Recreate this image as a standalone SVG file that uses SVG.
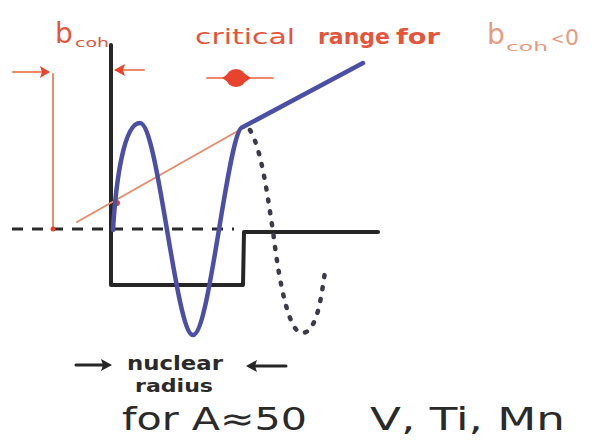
<svg xmlns="http://www.w3.org/2000/svg" width="603" height="444" viewBox="0 0 603 444">
<style>
.ink{fill:none;stroke:#262626;stroke-width:4;stroke-linecap:round;stroke-linejoin:round}
.dash{fill:none;stroke:#2a2a2a;stroke-width:3;stroke-dasharray:11 9}
.blue{fill:none;stroke:#4c4fa6;stroke-width:4.5;stroke-linecap:round;stroke-linejoin:round}
.dots{fill:none;stroke:#3a3a4a;stroke-width:4.5;stroke-linecap:round;stroke-dasharray:2 10}
.or{fill:none;stroke:#ec8a6a;stroke-width:2;stroke-linecap:round}
.red{fill:#e8432d}
.tr{font-family:"DejaVu Sans","Liberation Sans",sans-serif;fill:#e5553b}
.to{font-family:"DejaVu Sans","Liberation Sans",sans-serif;fill:#e99a80}
.tk{font-family:"DejaVu Sans","Liberation Sans",sans-serif;fill:#2a2a2a}
.bd{font-weight:bold}
</style>
<rect width="603" height="444" fill="#ffffff"/>
<g id="axis">
<line class="dash" x1="12" y1="229" x2="234" y2="229"/>
</g>
<g id="well">
<polyline class="ink" points="111,45 111,285 243,285 244,232 378,232"/>
</g>
<g id="asymptote">
<line class="or" x1="53" y1="74" x2="53" y2="229"/>
<line class="or" x1="77" y1="222" x2="243" y2="128"/>
<circle class="red" cx="53" cy="229" r="2.5"/>
<circle class="red" cx="117" cy="203" r="3"/>
</g>
<g id="wave">
<path class="blue" d="M113,230 C116,180 124,123 140,123 C158,123 176,335 193,335 C210,335 228,127 243,127 L363,63"/>
<path class="dots" d="M250,130 C262,150 268,200 273,231 C280,290 290,333 302,333 C318,333 322,290 325,272"/>
</g>
<g id="connectors">
<line class="or" x1="13" y1="72" x2="48" y2="72"/>
<path class="red" d="M50,72 L40,66 L42,72 L40,78 Z"/>
<line class="or" x1="116" y1="70" x2="144" y2="70"/>
<path class="red" d="M114,70 L125,64 L123,70 L125,76 Z"/>
<line class="or" x1="207" y1="78" x2="273" y2="78"/>
<ellipse class="red" cx="236" cy="78" rx="10" ry="9"/>
<path class="red" d="M222,78 L234,70 L234,86 Z"/>
<path class="red" d="M251,78 L239,70 L239,86 Z"/>
<line class="ink" x1="76" y1="365" x2="106" y2="365" style="stroke-width:3"/>
<path d="M112,365 L101,359 L103,365 L101,371 Z" fill="#262626"/>
<line class="ink" x1="250" y1="366" x2="286" y2="366" style="stroke-width:3"/>
<path d="M246,366 L257,360 L255,366 L257,372 Z" fill="#262626"/>
</g>
<g id="labels">
<text class="tr" x="55" y="43" font-size="28">b</text>
<text class="tr" x="75" y="47" font-size="13" textLength="34" lengthAdjust="spacingAndGlyphs">coh</text>
<text class="tr" x="195" y="44" font-size="22" textLength="100" lengthAdjust="spacingAndGlyphs">critical</text>
<text class="tr bd" x="318" y="44" font-size="22" textLength="72" lengthAdjust="spacingAndGlyphs">range</text>
<text class="tr bd" x="396" y="44" font-size="22" textLength="44" lengthAdjust="spacingAndGlyphs">for</text>
<text class="to" x="487" y="44" font-size="28">b</text>
<text class="to" x="506" y="51" font-size="13" textLength="42" lengthAdjust="spacingAndGlyphs">coh</text>
<text class="to" x="551" y="44" font-size="16">&lt;</text>
<text class="to" x="565" y="45" font-size="22">0</text>
<text class="tk bd" x="127" y="370" font-size="20" textLength="96" lengthAdjust="spacingAndGlyphs">nuclear</text>
<text class="tk bd" x="135" y="392" font-size="18" textLength="78" lengthAdjust="spacingAndGlyphs">radius</text>
<text class="tk" x="122" y="430" font-size="32" textLength="185" lengthAdjust="spacingAndGlyphs">for A≈50</text>
<text class="tk" x="370" y="430" font-size="32" textLength="195" lengthAdjust="spacingAndGlyphs">V, Ti, Mn</text>
</g>
</svg>
